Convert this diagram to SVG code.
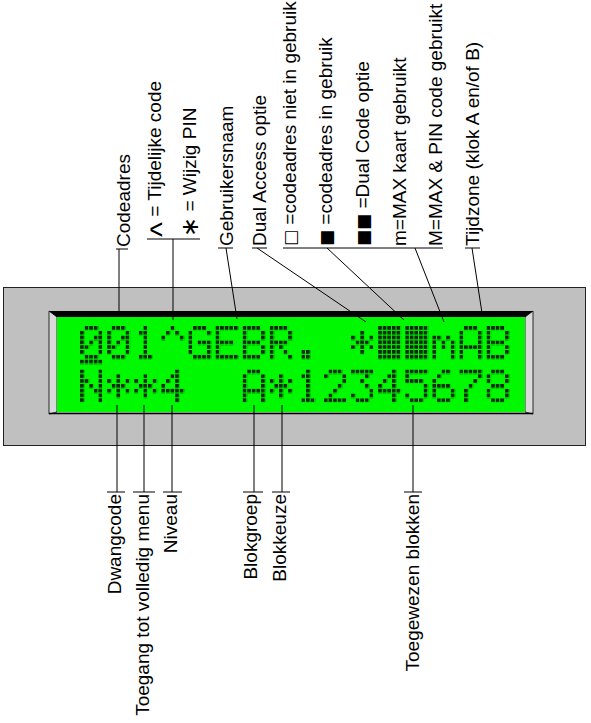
<svg xmlns="http://www.w3.org/2000/svg" xmlns:xlink="http://www.w3.org/1999/xlink" width="591" height="723" viewBox="0 0 591 723">
<style>
.lbl{font-family:"Liberation Sans",Arial,sans-serif;font-size:19px;fill:#000}
.sym{font-family:"DejaVu Sans",sans-serif;font-size:17px}
.ln{stroke:#000;stroke-width:1;fill:none}
.dm{fill:url(#dots)}
</style>
<defs>
<pattern id="dots" width="1" height="1" patternUnits="userSpaceOnUse"><rect width="0.8" height="0.77" fill="#0a280a"/></pattern>
<path id="c0" d="M1 0h3v1h-3z M0 1h1v5h-1z M4 1h1v5h-1z M3 2h1v1h-1z M2 3h1v1h-1z M1 4h1v1h-1z M1 6h3v1h-3z"/>
<path id="c1" d="M2 0h1v6h-1z M1 1h1v1h-1z M1 6h3v1h-3z"/>
<path id="cCaret" d="M2 0h1v1h-1z M1 1h1v1h-1z M3 1h1v1h-1z M0 2h1v1h-1z M4 2h1v1h-1z"/>
<path id="cG" d="M1 0h3v1h-3z M0 1h1v5h-1z M4 1h1v1h-1z M2 3h3v1h-3z M4 4h1v2h-1z M1 6h4v1h-4z"/>
<path id="cE" d="M0 0h5v1h-5z M0 1h1v5h-1z M1 3h3v1h-3z M0 6h5v1h-5z"/>
<path id="cB" d="M0 0h4v1h-4z M0 1h1v6h-1z M4 1h1v2h-1z M1 3h3v1h-3z M4 4h1v2h-1z M1 6h3v1h-3z"/>
<path id="cR" d="M0 0h4v1h-4z M0 1h1v6h-1z M4 1h1v2h-1z M1 3h3v1h-3z M2 4h1v1h-1z M3 5h1v1h-1z M4 6h1v1h-1z"/>
<path id="cDot" d="M1 5h2v2h-2z"/>
<path id="cStar" d="M2 1h1v5h-1z M0 2h1v1h-1z M4 2h1v1h-1z M1 3h1v1h-1z M3 3h1v1h-1z M0 4h1v1h-1z M4 4h1v1h-1z"/>
<path id="cBlk" d="M0 0h5v7h-5z"/>
<path id="cm" d="M0 2h2v1h-2z M3 2h1v1h-1z M0 3h1v4h-1z M2 3h1v2h-1z M4 3h1v4h-1z"/>
<path id="cA" d="M1 0h3v1h-3z M0 1h1v6h-1z M4 1h1v6h-1z M1 4h3v1h-3z"/>
<path id="cN" d="M0 0h1v7h-1z M4 0h1v7h-1z M1 2h1v1h-1z M2 3h1v1h-1z M3 4h1v1h-1z"/>
<path id="c4" d="M3 0h1v7h-1z M2 1h1v1h-1z M1 2h1v1h-1z M0 3h1v1h-1z M0 4h3v1h-3z M4 4h1v1h-1z"/>
<path id="c2" d="M1 0h3v1h-3z M0 1h1v1h-1z M4 1h1v2h-1z M3 3h1v1h-1z M2 4h1v1h-1z M1 5h1v1h-1z M0 6h5v1h-5z"/>
<path id="c3" d="M0 0h5v1h-5z M3 1h1v1h-1z M2 2h1v1h-1z M3 3h1v1h-1z M4 4h1v2h-1z M0 5h1v1h-1z M1 6h3v1h-3z"/>
<path id="c5" d="M0 0h5v1h-5z M0 1h1v2h-1z M1 2h3v1h-3z M4 3h1v3h-1z M0 5h1v1h-1z M1 6h3v1h-3z"/>
<path id="c6" d="M2 0h2v1h-2z M1 1h1v1h-1z M0 2h1v4h-1z M1 3h3v1h-3z M4 4h1v2h-1z M1 6h3v1h-3z"/>
<path id="c7" d="M0 0h5v1h-5z M4 1h1v1h-1z M3 2h1v1h-1z M2 3h1v1h-1z M1 4h1v3h-1z"/>
<path id="c8" d="M1 0h3v1h-3z M0 1h1v2h-1z M4 1h1v2h-1z M1 3h3v1h-3z M0 4h1v2h-1z M4 4h1v2h-1z M1 6h3v1h-3z"/>
<path id="cCur" d="M0 7h5v1h-5z"/>
</defs>
<rect width="591" height="723" fill="#fff"/>

<g id="lcd">
<rect x="3.5" y="287.5" width="582" height="158" fill="#c0c0c0" stroke="#222" stroke-width="1"/>
<polygon points="49,311 57,317 57,412 49,414" fill="#dadada" stroke="#000" stroke-width="0.8"/>
<polygon points="533,311 525,317 525,412 533,414" fill="#dadada" stroke="#000" stroke-width="0.8"/>
<rect x="57" y="317" width="468" height="95" fill="#00f800"/>
<polygon points="49,311 533,311 525,317 57,317" fill="#000"/>
<line x1="49" y1="413.5" x2="533" y2="413.5" stroke="#000" stroke-width="1.5"/>
<g id="lcd-row1" class="dm">
<use xlink:href="#c0" transform="translate(80,326) scale(4.6,4.8)"/>
<use xlink:href="#cCur" transform="translate(80,326) scale(4.6,4.8)"/>
<use xlink:href="#c0" transform="translate(107.1,326) scale(4.6,4.8)"/>
<use xlink:href="#c1" transform="translate(134.2,326) scale(4.6,4.8)"/>
<use xlink:href="#cCaret" transform="translate(161.3,326) scale(4.6,4.8)"/>
<use xlink:href="#cG" transform="translate(188.4,326) scale(4.6,4.8)"/>
<use xlink:href="#cE" transform="translate(215.5,326) scale(4.6,4.8)"/>
<use xlink:href="#cB" transform="translate(242.6,326) scale(4.6,4.8)"/>
<use xlink:href="#cR" transform="translate(269.7,326) scale(4.6,4.8)"/>
<use xlink:href="#cDot" transform="translate(296.8,326) scale(4.6,4.8)"/>
<use xlink:href="#cStar" transform="translate(351,326) scale(4.6,4.8)"/>
<use xlink:href="#cBlk" transform="translate(378.1,326) scale(4.6,4.8)"/>
<use xlink:href="#cBlk" transform="translate(405.2,326) scale(4.6,4.8)"/>
<use xlink:href="#cm" transform="translate(432.3,326) scale(4.6,4.8)"/>
<use xlink:href="#cA" transform="translate(459.4,326) scale(4.6,4.8)"/>
<use xlink:href="#cB" transform="translate(486.5,326) scale(4.6,4.8)"/>
</g>
<g id="lcd-row2" class="dm">
<use xlink:href="#cN" transform="translate(80,369.5) scale(4.6,4.8)"/>
<use xlink:href="#cStar" transform="translate(107.1,369.5) scale(4.6,4.8)"/>
<use xlink:href="#cStar" transform="translate(134.2,369.5) scale(4.6,4.8)"/>
<use xlink:href="#c4" transform="translate(161.3,369.5) scale(4.6,4.8)"/>
<use xlink:href="#cA" transform="translate(242.6,369.5) scale(4.6,4.8)"/>
<use xlink:href="#cStar" transform="translate(269.7,369.5) scale(4.6,4.8)"/>
<use xlink:href="#c1" transform="translate(296.8,369.5) scale(4.6,4.8)"/>
<use xlink:href="#c2" transform="translate(323.9,369.5) scale(4.6,4.8)"/>
<use xlink:href="#c3" transform="translate(351,369.5) scale(4.6,4.8)"/>
<use xlink:href="#c4" transform="translate(378.1,369.5) scale(4.6,4.8)"/>
<use xlink:href="#c5" transform="translate(405.2,369.5) scale(4.6,4.8)"/>
<use xlink:href="#c6" transform="translate(432.3,369.5) scale(4.6,4.8)"/>
<use xlink:href="#c7" transform="translate(459.4,369.5) scale(4.6,4.8)"/>
<use xlink:href="#c8" transform="translate(486.5,369.5) scale(4.6,4.8)"/>
</g>
</g>

<g id="connectors" class="ln">
<line x1="119" y1="249" x2="119" y2="313"/>
<line x1="173" y1="239" x2="173" y2="320"/>
<line x1="226" y1="248" x2="237" y2="319"/>
<line x1="257" y1="248" x2="366" y2="322"/>
<line x1="327" y1="248" x2="404" y2="320"/>
<line x1="415" y1="248" x2="444" y2="322"/>
<line x1="472" y1="248" x2="482" y2="313"/>
<line x1="117" y1="405" x2="117" y2="492"/>
<line x1="144" y1="405" x2="144" y2="492"/>
<line x1="172" y1="405" x2="172" y2="492"/>
<line x1="254" y1="405" x2="254" y2="492"/>
<line x1="282" y1="405" x2="282" y2="492"/>
<line x1="413" y1="405" x2="413" y2="492"/>
</g>

<g id="lbl-codeadres"><line class="ln" x1="116" y1="249" x2="128" y2="249"/><text class="lbl" transform="translate(129.5,247) rotate(-90)">Codeadres</text></g>
<g id="lbl-tijdelijk-pin"><line class="ln" x1="147" y1="239" x2="200" y2="239"/>
<text class="lbl" transform="translate(161,237) rotate(-90)"><tspan style="font-size:32px" dy="10.5">^</tspan><tspan dy="-10.5"> = Tijdelijke code</tspan></text>
<text class="lbl" transform="translate(196,237) rotate(-90)"><tspan style="font-family:'DejaVu Sans',sans-serif;font-size:24px" dy="1.5">∗</tspan><tspan dy="-1.5"> = Wijzig PIN</tspan></text></g>
<g id="lbl-gebruikersnaam"><line class="ln" x1="218" y1="248" x2="233" y2="248"/><text class="lbl" transform="translate(232.5,246) rotate(-90)">Gebruikersnaam</text></g>
<g id="lbl-dual-access"><line class="ln" x1="252" y1="248" x2="267" y2="248"/><text class="lbl" transform="translate(265.5,246) rotate(-90)">Dual Access optie</text></g>
<g id="lbl-codeadres-status"><line class="ln" x1="283" y1="248" x2="370" y2="248"/>
<text class="lbl" transform="translate(296,246) rotate(-90)"><tspan class="sym">□</tspan> =codeadres niet in gebruik</text>
<text class="lbl" transform="translate(331.5,246) rotate(-90)"><tspan class="sym">■</tspan> =codeadres in gebruik</text>
<text class="lbl" transform="translate(368.5,246) rotate(-90)"><tspan class="sym">■■</tspan> =Dual Code optie</text></g>
<g id="lbl-max"><line class="ln" x1="370" y1="248" x2="443" y2="248"/>
<text class="lbl" transform="translate(405.5,246) rotate(-90)">m=MAX kaart gebruikt</text>
<text class="lbl" transform="translate(441.5,246) rotate(-90)">M=MAX &amp; PIN code gebruikt</text></g>
<g id="lbl-tijdzone"><line class="ln" x1="465" y1="248" x2="480" y2="248"/><text class="lbl" transform="translate(478.5,246) rotate(-90)">Tijdzone (klok A en/of B)</text></g>

<g id="lbl-dwangcode"><line class="ln" x1="107" y1="492" x2="125" y2="492"/><text class="lbl" text-anchor="end" transform="translate(121,494) rotate(-90)">Dwangcode</text></g>
<g id="lbl-toegang"><line class="ln" x1="133" y1="492" x2="155" y2="492"/><text class="lbl" text-anchor="end" transform="translate(148.5,494) rotate(-90)">Toegang tot volledig menu</text></g>
<g id="lbl-niveau"><line class="ln" x1="163" y1="492" x2="182" y2="492"/><text class="lbl" text-anchor="end" transform="translate(176.5,494) rotate(-90)">Niveau</text></g>
<g id="lbl-blokgroep"><line class="ln" x1="243" y1="492" x2="263" y2="492"/><text class="lbl" text-anchor="end" transform="translate(256.5,494) rotate(-90)">Blokgroep</text></g>
<g id="lbl-blokkeuze"><line class="ln" x1="272" y1="492" x2="290" y2="492"/><text class="lbl" text-anchor="end" transform="translate(285.5,494) rotate(-90)">Blokkeuze</text></g>
<g id="lbl-toegewezen"><line class="ln" x1="404" y1="492" x2="422" y2="492"/><text class="lbl" text-anchor="end" transform="translate(418.5,494) rotate(-90)">Toegewezen blokken</text></g>
</svg>
